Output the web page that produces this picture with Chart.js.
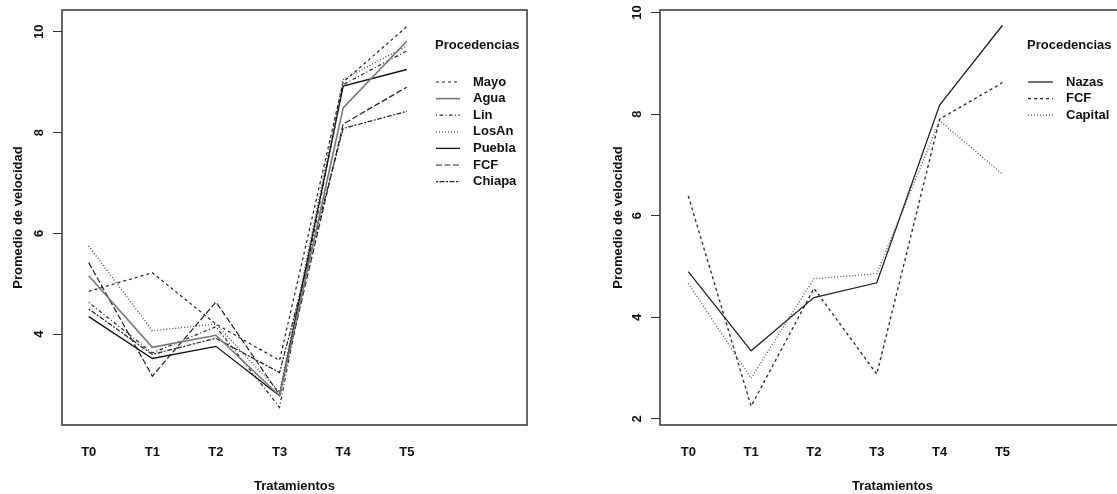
<!DOCTYPE html>
<html><head><meta charset="utf-8">
<script src="https://cdn.jsdelivr.net/npm/chart.js@4"></script>
<style>
html,body{margin:0;padding:0;width:1117px;height:494px;overflow:hidden;background:#fff;}
#c1{position:absolute;left:0;top:0;}
#c2{position:absolute;left:600px;top:0;}
</style></head><body>
<canvas id="c1" width="560" height="494"></canvas>
<canvas id="c2" width="560" height="494"></canvas>
<script>
// ---- data ----
const categories = ['T0','T1','T2','T3','T4','T5'];
const leftYTicks = [4, 6, 8, 10];
const rightYTicks = [2, 4, 6, 8, 10];
const leftSeriesNames = ['Mayo','Agua','Lin','LosAn','Puebla','FCF','Chiapa'];
const mayo   = [4.85, 5.22, 4.20, 3.48, 9.00, 10.10];
const agua   = [5.16, 3.74, 3.98, 2.78, 8.49, 9.81];
const lin    = [4.63, 3.63, 4.15, 2.55, 8.95, 9.62];
const losAn  = [5.75, 4.07, 4.20, 2.85, 9.05, 9.72];
const puebla = [4.35, 3.52, 3.76, 2.78, 8.92, 9.25];
const fcfL   = [5.42, 3.17, 4.64, 2.80, 8.17, 8.90];
const chiapa = [4.50, 3.60, 3.92, 3.24, 8.08, 8.42];
const rightSeriesNames = ['Nazas','FCF','Capital'];
const nazas   = [4.90, 3.34, 4.39, 4.68, 8.18, 9.75];
const fcfR    = [6.39, 2.25, 4.57, 2.88, 7.90, 8.62];
const capital = [4.67, 2.80, 4.76, 4.86, 7.87, 6.82];

const FONT = {family:'"Liberation Sans", Arial, Helvetica, sans-serif', size:13, weight:'bold'};
Chart.defaults.font.family = FONT.family;

const toPts = arr => arr.map((v,i)=>({x:i, y:v}));

const styles = {
  solid:   [],
  dashed:  [3,3],
  dotted:  [1,2],
  dotdash: [1,2.5,3.5,2.5],
  longdash:[6,2.5],
  twodash: [2,1.5,5,1.5]
};

function ds(label, data, dash, color, width){
  return {label, data: toPts(data), borderDash: dash, borderColor: color, borderWidth: width,
          pointRadius:0, tension:0, fill:false};
}

const boxPlugin = {
  id:'box',
  afterDatasetsDraw(chart){
    const {ctx, chartArea:a} = chart;
    ctx.save();
    ctx.strokeStyle = '#333';
    ctx.lineWidth = 1.5;
    ctx.strokeRect(a.left, a.top, a.right-a.left, a.bottom-a.top);
    ctx.restore();
  }
};

const legendPlugin = {
  id:'rlegend',
  afterDraw(chart, args, o){
    const ctx = chart.ctx;
    ctx.save();
    ctx.fillStyle = '#111';
    ctx.font = 'bold 13px ' + FONT.family;
    ctx.textBaseline = 'middle';
    ctx.textAlign = 'left';
    ctx.fillText(o.title, o.titleX, o.titleY);
    chart.data.datasets.forEach((d,i)=>{
      const y = o.itemY + i*o.step;
      ctx.beginPath();
      ctx.setLineDash(d.borderDash || []);
      ctx.strokeStyle = d.borderColor;
      ctx.lineWidth = d.borderWidth;
      ctx.moveTo(o.lineX0, y);
      ctx.lineTo(o.lineX1, y);
      ctx.stroke();
      ctx.setLineDash([]);
      ctx.fillStyle = '#111';
      ctx.fillText(d.label, o.textX, y);
    });
    ctx.restore();
  }
};

function makeChart(id, datasets, cfg){
  return new Chart(document.getElementById(id), {
    type:'line',
    data:{datasets},
    plugins:[boxPlugin, legendPlugin],
    options:{
      responsive:false, animation:false, devicePixelRatio:1,
      layout:{padding:{top:10, right:cfg.padRight, left:0, bottom:0}},
      plugins:{
        legend:{display:false}, tooltip:{enabled:false},
        rlegend: cfg.legend
      },
      scales:{
        x:{
          type:'linear', min:cfg.xMin, max:cfg.xMax,
          afterBuildTicks: s => { s.ticks = categories.map((c,i)=>({value:i})); },
          afterFit: s => { s.height = 69; s.paddingLeft = 0; s.paddingRight = 0; },
          ticks:{callback: v => categories[v], padding:20, minRotation:0, maxRotation:0, autoSkip:false, color:'#111', font:FONT},
          grid:{display:false, drawTicks:false},
          border:{display:false},
          title:{display:true, text:'Tratamientos', color:'#111', font:FONT, padding:{top:0, bottom:0}}
        },
        y:{
          type:'linear', min:cfg.yMin, max:cfg.yMax,
          afterBuildTicks: s => { s.ticks = cfg.yTicks.map(v=>({value:v})); },
          afterFit: s => { s.width = cfg.yWidth; s.paddingTop = 0; s.paddingBottom = 0; },
          ticks:{minRotation:90, maxRotation:90, crossAlign:'center', padding:6, color:'#111', font:FONT},
          grid:{display:true, drawOnChartArea:false, drawTicks:true, tickLength:9, color:'#333', lineWidth:1},
          border:{display:false},
          title:{display:true, text:'Promedio de velocidad', color:'#111', font:FONT, padding:{top:11, bottom:0}}
        }
      }
    }
  });
}

const leftData = [mayo, agua, lin, losAn, puebla, fcfL, chiapa];
const leftDash = [styles.dashed, styles.solid, styles.dotdash, styles.dotted, styles.solid, styles.longdash, styles.twodash];
const leftColor = ['#222','#777','#222','#444','#111','#222','#222'];
const leftWidth = [1.2, 1.6, 1.2, 1.3, 1.3, 1.2, 1.2];
makeChart('c1',
  leftSeriesNames.map((n,i)=>ds(n, leftData[i], leftDash[i], leftColor[i], leftWidth[i])),
  {xMin:-0.42, xMax:6.89, yMin:2.2, yMax:10.43, yTicks:leftYTicks, yWidth:62, padRight:33,
   legend:{title:'Procedencias', titleX:435, titleY:45, itemY:82, step:16.6, lineX0:436, lineX1:460, textX:473}});

const rightData = [nazas, fcfR, capital];
const rightDash = [styles.solid, styles.dashed, styles.dotted];
const rightColor = ['#222','#333','#555'];
const rightWidth = [1.3, 1.4, 1.3];
makeChart('c2',
  rightSeriesNames.map((n,i)=>ds(n, rightData[i], rightDash[i], rightColor[i], rightWidth[i])),
  {xMin:-0.45, xMax:6.95, yMin:1.88, yMax:10.05, yTicks:rightYTicks, yWidth:60, padRight:35,
   legend:{title:'Procedencias', titleX:427, titleY:45, itemY:82, step:16.6, lineX0:428, lineX1:453, textX:466}});
</script>
</body></html>
